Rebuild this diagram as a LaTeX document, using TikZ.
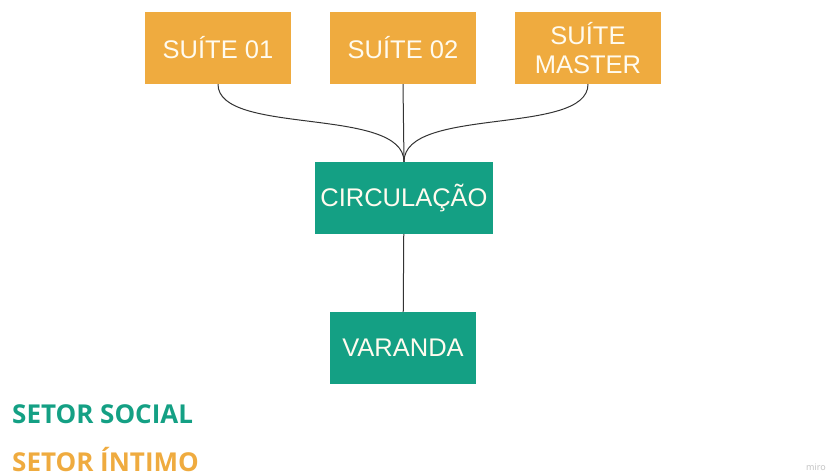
\documentclass[tikz,border=0pt]{standalone}
\usepackage{fontspec}
\setmainfont{Liberation Sans}
\newfontfamily\legendfont{Open Sans}
\usepackage{xcolor}
\usetikzlibrary{positioning}
\definecolor{intimo}{HTML}{EFAB3F}
\definecolor{social}{HTML}{14A084}
\definecolor{boxtext}{HTML}{FFFBEF}

\begin{document}
\begin{tikzpicture}[
  x=1pt, y=-1pt,
  font=\fontsize{25.5}{29}\selectfont,
  room/.style={align=center, inner sep=0pt, text=boxtext, minimum height=72pt},
  suite/.style={room, fill=intimo, minimum width=146pt},
  social/.style={room, fill=social},
  link/.style={draw=black!80, line width=1pt},
  legend/.style={anchor=base west, inner sep=0pt, font=\legendfont\bfseries\fontsize{26}{28}\selectfont}
]
\useasboundingbox (0,0) rectangle (831,476);
\node[suite] (s1) at (218,48) {SUÍTE 01};
\node[suite] (s2) at (403,48) {SUÍTE 02};
\node[suite] (sm) at (588,48) {SUÍTE\\MASTER};
\node[social, minimum width=178pt] (circ) at (404,198) {CIRCULAÇÃO};
\node[social, minimum width=146pt] (var) at (403,348) {VARANDA};
\draw[link] (s1.south) .. controls +(0,52) and +(0,-56) .. (circ.north);
\draw[link] (s2.south) -- (circ.north);
\draw[link] (sm.south) .. controls +(0,52) and +(0,-56) .. (circ.north);
\draw[link] (circ) -- (var);
\node[legend, text=social] (lsoc) at (12,423) {SETOR SOCIAL};
\node[legend, text=intimo] (lint) at (12,471) {SETOR ÍNTIMO};
\node[anchor=base east, inner sep=0pt, text=black!25, font=\legendfont\fontsize{9}{10}\selectfont] (miro) at (826,470) {miro};
\end{tikzpicture}
\end{document}
